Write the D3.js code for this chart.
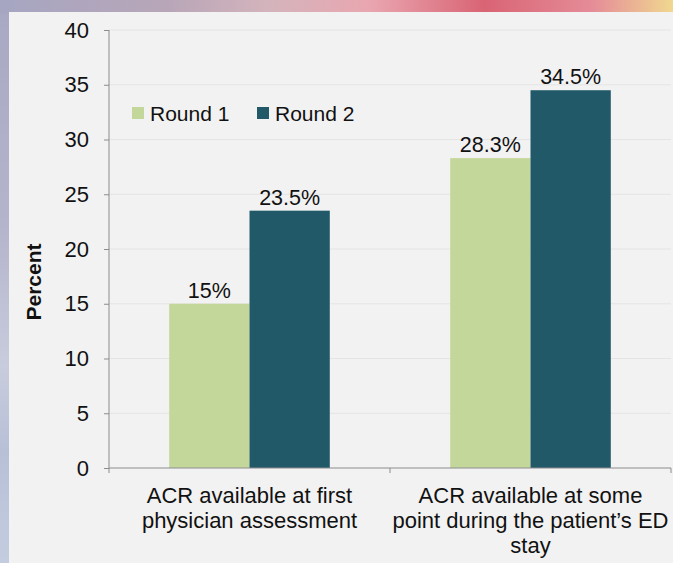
<!DOCTYPE html>
<html>
<head>
<meta charset="utf-8">
<script src="https://cdn.jsdelivr.net/npm/d3@7"></script>
<style>
  html, body { margin: 0; padding: 0; }
  body { width: 673px; height: 563px; overflow: hidden; font-family: "Liberation Sans", Arial, sans-serif; }
</style>
</head>
<body>
<script>
var width = 673;
var height = 563;

var categories = [
  ["ACR available at first", "physician assessment"],
  ["ACR available at some", "point during the patient\u2019s ED", "stay"]
];
var seriesNames = ["Round 1", "Round 2"];
var round1 = [15, 28.3];
var round2 = [23.5, 34.5];
var valueLabels1 = ["15%", "28.3%"];
var valueLabels2 = ["23.5%", "34.5%"];
var yTicks = [0, 5, 10, 15, 20, 25, 30, 35, 40];
var colors = ["#c4d79b", "#215968"];

var svg = d3.select("body")
            .append("svg")
            .attr("width", width)
            .attr("height", height);

// Background photo stand-in
var defs = svg.append("defs");
var topGrad = defs.append("linearGradient").attr("id", "topGrad");
[["0%", "#a6a6c2"], ["25%", "#b8a6b8"], ["40%", "#d4b4bc"], ["55%", "#e9a6b0"],
 ["72%", "#d96474"], ["88%", "#e58c98"], ["100%", "#f0d890"]]
  .forEach(s => topGrad.append("stop").attr("offset", s[0]).attr("stop-color", s[1]));
var leftGrad = defs.append("linearGradient").attr("id", "leftGrad")
                   .attr("x1", 0).attr("y1", 0).attr("x2", 0).attr("y2", 1);
[["0%", "#a8a8c4"], ["40%", "#b4b4cc"], ["65%", "#c8ccdc"], ["80%", "#b8c0d8"], ["100%", "#c4cce0"]]
  .forEach(s => leftGrad.append("stop").attr("offset", s[0]).attr("stop-color", s[1]));

svg.append("rect").attr("width", width).attr("height", height).attr("fill", "url(#leftGrad)");
svg.append("rect").attr("width", width).attr("height", 14).attr("fill", "url(#topGrad)");

// Panel
svg.append("rect")
   .attr("x", 9).attr("y", 12)
   .attr("width", width - 9).attr("height", height - 12)
   .attr("fill", "#f2f2f2");

var x0 = 109, x1 = 671, yTop = 30, yBot = 468;

var x = d3.scaleBand().domain(d3.range(categories.length)).range([x0, x1]);
var xs = d3.scaleBand().domain([0, 1]).range([0, x.bandwidth()]).paddingOuter(0.75).paddingInner(0);
var y = d3.scaleLinear().domain([0, 40]).range([yBot, yTop]);

// Gridlines
svg.append("g")
   .selectAll("line")
   .data(yTicks.slice(1))
   .enter()
   .append("line")
   .attr("x1", x0).attr("x2", x1)
   .attr("y1", d => y(d)).attr("y2", d => y(d))
   .attr("stroke", "#e4e4e4")
   .attr("stroke-width", 1);

// Bars
var groups = svg.append("g")
                .selectAll("g")
                .data(categories)
                .enter()
                .append("g")
                .attr("transform", (d, i) => "translate(" + x(i) + ",0)");

[round1, round2].forEach(function (vals, s) {
  groups.append("rect")
        .attr("x", xs(s))
        .attr("width", xs.bandwidth())
        .attr("y", (d, i) => y(vals[i]))
        .attr("height", (d, i) => y(0) - y(vals[i]))
        .attr("fill", colors[s]);
});

[valueLabels1, valueLabels2].forEach(function (labs, s) {
  var vals = s === 0 ? round1 : round2;
  groups.append("text")
        .attr("x", xs(s) + xs.bandwidth() / 2)
        .attr("y", (d, i) => y(vals[i]) - 6)
        .attr("text-anchor", "middle")
        .attr("font-size", 21.5)
        .attr("fill", "#111")
        .text((d, i) => labs[i]);
});

// Y axis
var yAxis = svg.append("g")
               .attr("transform", "translate(" + x0 + ",0)")
               .call(d3.axisLeft(y).tickValues(yTicks).tickSize(5).tickPadding(15));
yAxis.select(".domain").attr("stroke", "#8c8c8c").attr("d", "M0," + yTop + "V" + yBot);
yAxis.selectAll(".tick line").attr("stroke", "#8c8c8c");
yAxis.selectAll(".tick text")
     .attr("font-family", "Liberation Sans, Arial, sans-serif")
     .attr("font-size", 22)
     .attr("fill", "#111");

// X axis
var xAxis = svg.append("g").attr("transform", "translate(0," + yBot + ")");
xAxis.append("line").attr("x1", x0).attr("x2", x1).attr("stroke", "#8c8c8c");
xAxis.selectAll(".sep")
     .data(d3.range(categories.length + 1))
     .enter()
     .append("line")
     .attr("x1", d => x0 + d * x.bandwidth()).attr("x2", d => x0 + d * x.bandwidth())
     .attr("y1", 0).attr("y2", 5)
     .attr("stroke", "#8c8c8c");

groups.each(function (lines, i) {
  var t = d3.select(this).append("text")
            .attr("text-anchor", "middle")
            .attr("font-size", 22)
            .attr("fill", "#111");
  lines.forEach(function (l, j) {
    t.append("tspan")
     .attr("x", x.bandwidth() / 2)
     .attr("y", yBot + 35 + j * 25)
     .text(l);
  });
});

// Y title
svg.append("text")
   .attr("transform", "translate(41,282)rotate(-90)")
   .attr("text-anchor", "middle")
   .attr("font-size", 21)
   .attr("font-weight", "bold")
   .attr("fill", "#111")
   .text("Percent");

// Legend
var legend = svg.append("g").attr("transform", "translate(132,107)");
var legX = [0, 125];
seriesNames.forEach(function (n, i) {
  legend.append("rect").attr("x", legX[i]).attr("y", 0).attr("width", 12).attr("height", 12).attr("fill", colors[i]);
  legend.append("text").attr("x", legX[i] + 18).attr("y", 14)
        .attr("font-size", 21).attr("fill", "#111").text(n);
});
</script>
</body>
</html>
